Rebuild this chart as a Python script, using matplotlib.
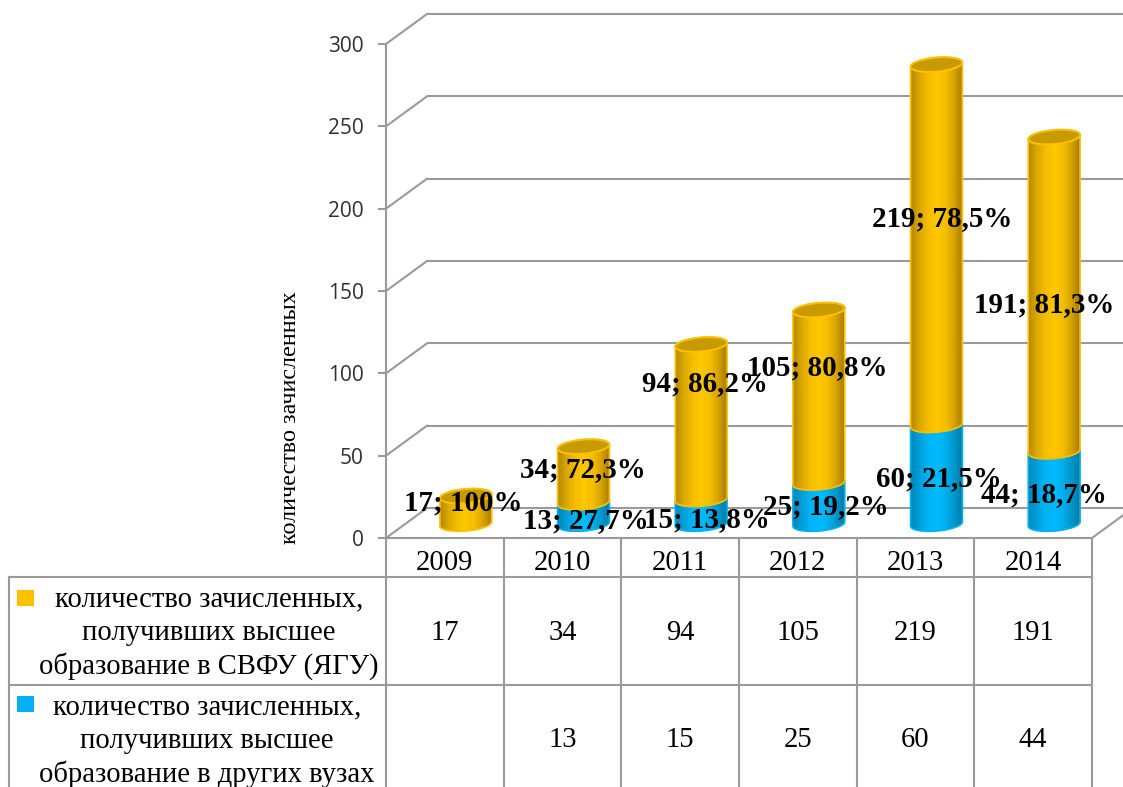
import numpy as np
import matplotlib
matplotlib.use("Agg")
import matplotlib.pyplot as plt
from matplotlib.colors import LinearSegmentedColormap
from matplotlib.lines import Line2D
from matplotlib.patches import PathPatch, Rectangle
from matplotlib.path import Path

plt.rcParams['font.family'] = ['Liberation Serif', 'DejaVu Serif']

years = ['2009', '2010', '2011', '2012', '2013', '2014']
yagu_values = [17, 34, 94, 105, 219, 191]
other_values = [None, 13, 15, 25, 60, 44]
yagu_pct = ['100', '72,3', '86,2', '80,8', '78,5', '81,3']
other_pct = [None, '27,7', '13,8', '19,2', '21,5', '18,7']
y_ticks = [0, 50, 100, 150, 200, 250, 300]
y_title = 'количество зачисленных'
row_labels = [
    ['количество зачисленных,', 'получивших высшее', 'образование в СВФУ (ЯГУ)'],
    ['количество зачисленных,', 'получивших высшее', 'образование в других вузах'],
]

# layout, px
W, H = 1123, 787
DPI = 100
PLOT_L, PLOT_R, PLOT_B, PLOT_T = 386, 1092, 538, 44
WALL_DX, WALL_DY = 41, 30
BAR_DX, BAR_DY = 21, 14
BAR_FLOOR = -20  # value below zero kept inside the bar axes, so the round base is not cut
R_A, R_B, TILT = 26, 7, np.radians(5)
GREY = '#9a9a9a'
LW = 1.5
TXT = 20.6
yagu_label_off = [(-3, 7), (-1, 5), (4, 38), (-2, 29), (6, 26), (-10, -10)]
other_label_off = [None, (2, -7), (6, -8), (7, -3), (2, -4), (-10, -7)]

fig = plt.figure(figsize=(W / DPI, H / DPI), dpi=DPI)
sx = (PLOT_R - PLOT_L) / 6
sy = (PLOT_B - PLOT_T) / 300


def make_axes(dx=0, dy=0, z=1, floor=0):
    extra = -floor * sy
    a = fig.add_axes([(PLOT_L + dx) / W, 1 - (PLOT_B - dy + extra) / H,
                      (PLOT_R - PLOT_L) / W, (PLOT_B - PLOT_T + extra) / H], zorder=z)
    a.set_xlim(-0.5, 5.5)
    a.set_ylim(floor, 300)
    a.patch.set_alpha(0)
    return a


# back wall
wall = make_axes(WALL_DX, WALL_DY, 1)
wall.axis('off')
wall.hlines(y_ticks, -0.5, 6.5, color=GREY, lw=LW, clip_on=False)

# value axis
ax = make_axes(0, 0, 2)
for s in ['top', 'right', 'bottom']:
    ax.spines[s].set_visible(False)
ax.spines['left'].set_color(GREY)
ax.spines['left'].set_linewidth(LW)
ax.set_xticks([])
ax.set_yticks(y_ticks)
ax.tick_params(axis='y', length=6, width=LW, color=GREY, labelsize=15, pad=10, labelcolor='#303030')
for lab in ax.get_yticklabels():
    lab.set_fontfamily('Open Sans')

# overlay in pixels for the data table
ov = fig.add_axes([0, 0, 1, 1], zorder=3)
ov.set_xlim(0, W)
ov.set_ylim(H, 0)
ov.axis('off')
ov.patch.set_alpha(0)

# diagonal wall ties
for v in y_ticks:
    p0 = ax.transData.transform((-0.5, v))
    p1 = wall.transData.transform((-0.5, v))
    fig.add_artist(Line2D([p0[0] / W, p1[0] / W], [p0[1] / H, p1[1] / H],
                          color=GREY, lw=LW, zorder=1.5))
p0 = ax.transData.transform((5.5, 0))
p1 = wall.transData.transform((5.5, 0))
fig.add_artist(Line2D([p0[0] / W, p1[0] / W], [p0[1] / H, p1[1] / H],
                      color=GREY, lw=LW, zorder=1.5))

# table
edges = np.linspace(PLOT_L, PLOT_R, len(years) + 1)
centers = (edges[:-1] + edges[1:]) / 2
TBL_L, Y0, Y1, Y2, Y3 = 9, 538, 577, 684.5, 787
ov.plot([PLOT_L, PLOT_R], [Y0, Y0], color=GREY, lw=LW)
for yy in (Y1, Y2):
    ov.plot([TBL_L, PLOT_R], [yy, yy], color=GREY, lw=LW)
ov.plot([TBL_L, TBL_L], [Y1, Y3], color=GREY, lw=LW)
for e in edges:
    ov.plot([e, e], [Y0, Y3], color=GREY, lw=LW)
for c, yr, a, b in zip(centers, years, yagu_values, other_values):
    ov.text(c, 563, yr, ha='center', va='center', fontsize=TXT)
    ov.text(c, 633, str(a), ha='center', va='center', fontsize=TXT)
    if b is not None:
        ov.text(c, 740, str(b), ha='center', va='center', fontsize=TXT)
for lines, ys, xc in zip(row_labels, ([599, 633, 666], [707, 741, 774]), (209, 207)):
    for t, yy in zip(lines, ys):
        ov.text(xc, yy, t, ha='center', va='center', fontsize=TXT)
ov.add_patch(Rectangle((17, 590), 17, 16, color='#FFC000', lw=0))
ov.add_patch(Rectangle((17, 696), 17, 16, color='#00B0F0', lw=0))
ov.text(291, 418, y_title, rotation=90, ha='center', va='center', fontsize=17.4)

# bars
bars = make_axes(BAR_DX, BAR_DY, 4, floor=BAR_FLOOR)
bars.axis('off')

gold_cm = LinearSegmentedColormap.from_list(
    'g', ['#B58A00', '#DDA800', '#F5BE00', '#FFC800', '#F5BE00', '#D9A400', '#A67C00'])
blue_cm = LinearSegmentedColormap.from_list(
    'b', ['#0088BC', '#00A0DA', '#00B4F4', '#00BBFF', '#00B0EE', '#0098CE', '#007BA8'])
grad = np.linspace(0, 1, 64).reshape(1, -1)


def arc(x, v, t0, t1, n=30):
    t = np.linspace(t0, t1, n)
    dx = R_A * np.cos(t)
    dy = R_B * np.sin(t)
    px = dx * np.cos(TILT) - dy * np.sin(TILT)
    py = dx * np.sin(TILT) + dy * np.cos(TILT)
    return np.column_stack([x + px / sx, v + py / sy])


def cylinder(x, lo, hi, cmap, edge, z, cap=None):
    verts = np.vstack([arc(x, lo, np.pi, 2 * np.pi), arc(x, hi, 0, np.pi)])
    path = Path(np.vstack([verts, verts[:1]]), closed=True)
    im = bars.imshow(grad, cmap=cmap, aspect='auto', zorder=z,
                     extent=(x - R_A / sx, x + R_A / sx, lo - 10, hi + 10))
    patch = PathPatch(path, fc='none', ec=edge, lw=1.2, zorder=z + 0.1, clip_on=False)
    bars.add_patch(patch)
    im.set_clip_path(patch)
    if cap:
        bars.fill(*arc(x, hi, 0, 2 * np.pi, 50).T, fc=cap, ec=edge, lw=1.4, zorder=z + 0.2, clip_on=False)


for i, (a, b) in enumerate(zip(yagu_values, other_values)):
    base = b or 0
    if b:
        cylinder(i, 0, b, blue_cm, '#00B0F0', 2)
    cylinder(i, base, base + a, gold_cm, '#FFC000', 3, cap='#C79A00')
    bars.annotate(f'{a}; {yagu_pct[i]}%', (i, base + a / 2),
                  xytext=(yagu_label_off[i][0] * 0.72, yagu_label_off[i][1] * 0.72),
                  textcoords='offset points', ha='center', va='center',
                  fontsize=20.9, fontweight='bold', zorder=6)
    if b:
        bars.annotate(f'{b}; {other_pct[i]}%', (i, b / 2),
                      xytext=(other_label_off[i][0] * 0.72, other_label_off[i][1] * 0.72),
                      textcoords='offset points', ha='center', va='center',
                      fontsize=20.9, fontweight='bold', zorder=6)
bars.set_xlim(-0.5, 5.5)
bars.set_ylim(BAR_FLOOR, 300)

fig.savefig('out.png', dpi=DPI, facecolor='white')
